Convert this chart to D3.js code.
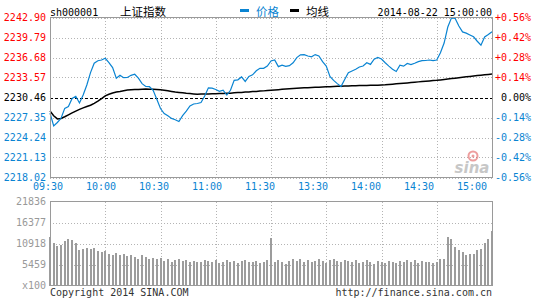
<!DOCTYPE html>
<html><head><meta charset="utf-8">
<script src="https://cdn.jsdelivr.net/npm/d3@7"></script>
<style>
html,body{margin:0;padding:0;background:#fff;}
svg{display:block;}
</style></head>
<body>
<svg id="c" width="545" height="300"></svg>
<script>
// ---- data (2-minute samples, 09:30 -> 15:00, trading minutes 0..240) ----
const timeLabels = ["09:30","10:00","10:30","11:00","11:30","13:30","14:00","14:30","15:00"];
const timeTicks = [0,30,60,90,120,150,180,210,240];
const priceTicks = [2242.90,2239.79,2236.68,2233.57,2230.46,2227.35,2224.24,2221.13,2218.02];
const pctLabels = ["+0.56%","+0.42%","+0.28%","+0.14%","0.00%","-0.14%","-0.28%","-0.42%","-0.56%"];
const volTicks = [21836,16377,10918,5459];
const volTickLabels = ["21836","16377","10918","5459","x100"];
const prevClose = 2230.46;
const step = 2;

const price = [
2228.05,2226.03,2226.57,2227.23,2228.77,2229.06,2230.30,2230.65,2229.60,2230.85,
2232.40,2234.33,2235.79,2236.17,2236.29,2236.56,2235.89,2235.11,2233.45,2233.93,
2233.55,2233.57,2233.91,2234.08,2233.48,2232.62,2232.17,2232.14,2231.58,2230.18,
2228.75,2227.96,2227.61,2227.21,2227.01,2226.73,2227.63,2228.33,2229.15,2229.45,
2229.53,2229.68,2230.69,2231.97,2231.91,2231.70,2231.41,2231.61,2230.83,2231.58,
2233.13,2233.21,2233.66,2232.96,2233.74,2233.99,2234.61,2235.00,2235.00,2235.36,
2236.14,2236.29,2235.26,2235.50,2235.31,2235.41,2235.86,2236.66,2237.10,2237.13,
2236.91,2236.79,2237.13,2236.93,2236.03,2235.36,2233.74,2233.13,2232.62,2232.17,
2233.27,2234.33,2234.58,2234.84,2235.20,2235.36,2235.87,2235.61,2236.42,2236.68,
2236.45,2235.87,2235.34,2234.86,2234.50,2235.48,2235.33,2235.75,2235.58,2235.78,
2236.03,2236.18,2236.21,2236.29,2236.20,2236.29,2237.43,2238.93,2241.42,2242.85,
2242.74,2241.58,2240.66,2240.47,2240.19,2239.90,2239.21,2238.60,2239.88,2240.26,
2240.69];

const avgLine = [
2228.36,2227.63,2227.13,2227.19,2227.47,2227.77,2228.07,2228.35,2228.61,2228.84,
2229.05,2229.25,2229.56,2229.90,2230.29,2230.72,2230.97,2231.16,2231.32,2231.41,
2231.52,2231.61,2231.66,2231.69,2231.72,2231.75,2231.77,2231.75,2231.73,2231.70,
2231.67,2231.60,2231.50,2231.41,2231.31,2231.24,2231.18,2231.11,2231.07,2231.02,
2230.98,2230.99,2231.00,2231.02,2231.04,2231.05,2231.07,2231.09,2231.11,2231.14,
2231.18,2231.22,2231.25,2231.30,2231.33,2231.38,2231.41,2231.46,2231.49,2231.54,
2231.59,2231.63,2231.68,2231.73,2231.77,2231.82,2231.87,2231.91,2231.93,2231.96,
2231.98,2232.01,2232.04,2232.07,2232.09,2232.12,2232.15,2232.17,2232.20,2232.22,
2232.25,2232.26,2232.28,2232.29,2232.31,2232.33,2232.34,2232.35,2232.36,2232.38,
2232.40,2232.43,2232.48,2232.53,2232.58,2232.63,2232.68,2232.73,2232.78,2232.83,
2232.89,2232.93,2232.98,2233.03,2233.09,2233.13,2233.19,2233.26,2233.33,2233.40,
2233.46,2233.53,2233.60,2233.67,2233.74,2233.80,2233.87,2233.93,2233.99,2234.05,
2234.11];

const volume = [
12600,11000,10200,10600,11500,12000,11700,11000,9300,9600,
9800,9400,9700,9000,8600,8900,8300,8000,8500,7800,
8100,7600,7900,7300,6900,7800,7500,7000,7200,6800,
7100,6400,6800,6200,6500,6900,6300,6600,6100,6400,
6000,6200,6700,6300,6000,6500,5800,6200,6600,6100,
6400,5900,6300,6700,6200,6000,6400,5800,6100,6500,
12400,6000,6600,6200,5700,6300,6800,6400,6900,6200,
6600,6000,6400,6800,6300,5900,6500,7000,6400,6100,
6700,6300,6000,6500,5800,6200,6600,6000,5600,6400,
6200,5800,6300,6100,5900,6400,6000,6600,6200,6500,
5900,6300,6000,6200,5800,6100,6800,7000,12700,12100,
10000,9300,8600,8000,8300,8100,9100,9500,11000,12200,
14100];

// ---- drawing ----
const svg = d3.select("#c");
const mono = "'DejaVu Sans Mono','Liberation Mono',monospace";
const cjk = "'Noto Sans CJK SC','Noto Sans',sans-serif";
const L = 50, R = 492, T = 17.5, B = 177.5, VT = 201.5, VB = 285.5;
const blue = "#0a84d2", red = "#ff0000", gridC = "#b4b4b4", frameC = "#9a9a9a";

const x = d3.scaleLinear().domain([0, 240]).range([L, R]);
const y = d3.scaleLinear().domain([priceTicks[8], priceTicks[0]]).range([B, T]);
const yv = d3.scaleLinear().domain([0, volTicks[0]]).range([VB, VT]);
const xLab = d3.scalePoint().domain(timeLabels).range([48, 472]);

// price panel grid
const g = svg.append("g");
g.selectAll("line.h").data(priceTicks).join("line")
  .attr("x1", L).attr("x2", R)
  .attr("y1", d => Math.round(y(d)) + 0.5).attr("y2", d => Math.round(y(d)) + 0.5)
  .attr("stroke", d => d === prevClose ? "#000" : gridC)
  .attr("stroke-dasharray", d => d === prevClose ? "3,2" : "1,2")
  .attr("shape-rendering", "crispEdges");
g.selectAll("line.v").data(timeTicks).join("line")
  .attr("x1", d => Math.round(x(d)) + 0.5).attr("x2", d => Math.round(x(d)) + 0.5)
  .attr("y1", T).attr("y2", B)
  .attr("stroke", gridC).attr("stroke-dasharray", "1,2")
  .attr("shape-rendering", "crispEdges");

// volume panel grid
g.selectAll("line.vh").data(volTicks.slice(1)).join("line")
  .attr("x1", L).attr("x2", R)
  .attr("y1", d => Math.round(yv(d)) + 0.5).attr("y2", d => Math.round(yv(d)) + 0.5)
  .attr("stroke", gridC).attr("stroke-dasharray", "1,2")
  .attr("shape-rendering", "crispEdges");
g.selectAll("line.vv").data(timeTicks).join("line")
  .attr("x1", d => Math.round(x(d)) + 0.5).attr("x2", d => Math.round(x(d)) + 0.5)
  .attr("y1", VT).attr("y2", VB)
  .attr("stroke", gridC).attr("stroke-dasharray", "1,2")
  .attr("shape-rendering", "crispEdges");

// volume bars
svg.append("g").selectAll("rect").data(volume).join("rect")
  .attr("x", (d, i) => Math.round(x(i * step)) - 1)
  .attr("width", 2)
  .attr("y", d => yv(d))
  .attr("height", d => VB - yv(d))
  .attr("fill", "#9c9c9c")
  .attr("shape-rendering", "crispEdges");

// watermark
const wm = svg.append("g").attr("opacity", 0.55);
wm.append("circle").attr("cx", 473).attr("cy", 156).attr("r", 4.5)
  .attr("fill", "none").attr("stroke", "#e05050").attr("stroke-width", 2);
wm.append("circle").attr("cx", 473).attr("cy", 156).attr("r", 1.5).attr("fill", "#e05050");
wm.append("text").attr("x", 472).attr("y", 173).attr("text-anchor", "middle")
  .attr("font-family", "'DejaVu Sans',sans-serif").attr("font-size", 15)
  .attr("font-weight", "bold").attr("font-style", "italic")
  .attr("fill", "#9a9a9a").text("sina");

// lines
const line = d3.line().x((d, i) => x(i * step)).y(d => y(d));
svg.append("path").datum(avgLine).attr("d", line)
  .attr("fill", "none").attr("stroke", "#000").attr("stroke-width", 1.5);
svg.append("path").datum(price).attr("d", line)
  .attr("fill", "none").attr("stroke", blue).attr("stroke-width", 1.2);

// frames
svg.append("rect").attr("x", L + 0.5).attr("y", T).attr("width", R - L).attr("height", B - T)
  .attr("fill", "none").attr("stroke", frameC).attr("shape-rendering", "crispEdges");
svg.append("rect").attr("x", L + 0.5).attr("y", VT).attr("width", R - L).attr("height", VB - VT)
  .attr("fill", "none").attr("stroke", frameC).attr("shape-rendering", "crispEdges");

// price labels
const colorFor = i => i < 4 ? red : (i === 4 ? "#000" : blue);
svg.append("g").selectAll("text").data(priceTicks).join("text")
  .attr("x", 46).attr("y", d => y(d)).attr("dy", "0.36em")
  .attr("text-anchor", "end").attr("font-family", mono).attr("font-size", 10)
  .attr("fill", (d, i) => colorFor(i)).text(d => d.toFixed(2));
svg.append("g").selectAll("text").data(pctLabels).join("text")
  .attr("x", 531).attr("y", (d, i) => y(priceTicks[i])).attr("dy", "0.36em")
  .attr("text-anchor", "end").attr("font-family", mono).attr("font-size", 10)
  .attr("fill", (d, i) => colorFor(i)).text(d => d);

// time labels
svg.append("g").selectAll("text").data(timeLabels).join("text")
  .attr("x", d => xLab(d)).attr("y", 186).attr("dy", "0.36em")
  .attr("text-anchor", "middle").attr("font-family", mono).attr("font-size", 10)
  .attr("fill", blue).text(d => d);

// volume labels
const volLabelVals = volTicks.concat([0]);
svg.append("g").selectAll("text").data(volTickLabels).join("text")
  .attr("x", 46).attr("y", (d, i) => yv(volLabelVals[i])).attr("dy", "0.36em")
  .attr("text-anchor", "end").attr("font-family", mono).attr("font-size", 10)
  .attr("fill", "#999").text(d => d);

// header
svg.append("text").attr("x", 50).attr("y", 12).attr("dy", "0.36em")
  .attr("font-family", mono).attr("font-size", 10).attr("fill", "#000").text("sh000001");
svg.append("text").attr("x", 120).attr("y", 12).attr("dy", "0.36em")
  .attr("font-family", cjk).attr("font-size", 11.5).attr("fill", "#000").text("上证指数");
svg.append("rect").attr("x", 240).attr("y", 9).attr("width", 9).attr("height", 3).attr("fill", blue);
svg.append("text").attr("x", 256).attr("y", 12).attr("dy", "0.36em")
  .attr("font-family", cjk).attr("font-size", 11.5).attr("fill", blue).text("价格");
svg.append("rect").attr("x", 290).attr("y", 9).attr("width", 9).attr("height", 3).attr("fill", "#000");
svg.append("text").attr("x", 306).attr("y", 12).attr("dy", "0.36em")
  .attr("font-family", cjk).attr("font-size", 11.5).attr("fill", "#000").text("均线");
svg.append("text").attr("x", 492).attr("y", 12).attr("dy", "0.36em").attr("text-anchor", "end")
  .attr("font-family", mono).attr("font-size", 10).attr("fill", "#000").text("2014-08-22 15:00:00");

// footer
svg.append("text").attr("x", 50).attr("y", 292).attr("dy", "0.36em")
  .attr("font-family", mono).attr("font-size", 10).attr("fill", "#333").text("Copyright 2014 SINA.COM");
svg.append("text").attr("x", 492).attr("y", 292).attr("dy", "0.36em").attr("text-anchor", "end")
  .attr("font-family", mono).attr("font-size", 10).attr("fill", "#333").text("http://finance.sina.com.cn");
</script>
</body></html>
